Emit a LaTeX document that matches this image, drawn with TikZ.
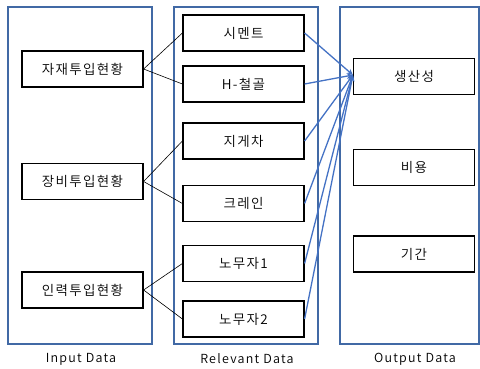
\documentclass[tikz,border=0pt]{standalone}
\usepackage{fontspec}
\setmainfont{Noto Sans CJK KR DemiLight}[LetterSpace=10]
\usetikzlibrary{arrows.meta}
\definecolor{panelblue}{RGB}{65,105,165}
\definecolor{linkblue}{RGB}{68,114,196}
\tikzset{
  panel/.style={draw=panelblue, line width=1.1pt},
  item/.style={draw=black, line width=1.2pt, minimum width=121pt, minimum height=36pt, inner sep=0pt, font=\fontsize{13.5}{15}\selectfont},
  feed/.style={draw=black, line width=0.6pt},
  link/.style={draw=linkblue, line width=1.3pt, -{Stealth[length=6pt,width=5.5pt]}},
  caption/.style={font=\fontsize{12.5}{14}\selectfont, inner sep=0pt}
}
\begin{document}
\begin{tikzpicture}[x=1pt,y=-1pt]
\useasboundingbox (0,0) rectangle (480,369);
% three columns
\draw[panel] (8,7) rectangle (152,344);
\draw[panel] (174,7) rectangle (318,344);
\draw[panel] (340,7) rectangle (479,344);
% input items
\node[item] (mat) at (82.5,69) {자재투입현황};
\node[item] (equ) at (82.5,181.5) {장비투입현황};
\node[item] (lab) at (82.5,290) {인력투입현황};
% relevant items
\node[item] (cem) at (243.5,33) {시멘트};
\node[item] (hbm) at (243.5,84) {H-철골};
\node[item] (frk) at (243.5,141) {지게차};
\node[item] (crn) at (243.5,203.5) {크레인};
\node[item] (wk1) at (243.5,263.5) {노무자1};
\node[item] (wk2) at (243.5,319) {노무자2};
% output items
\node[item] (prd) at (414,76.5) {생산성};
\node[item] (cst) at (414,167.5) {비용};
\node[item] (dur) at (414,254) {기간};
% captions
\node[caption] (c1) at (81,359) {Input Data};
\node[caption] (c2) at (247,359) {Relevant Data};
\node[caption] (c3) at (415,359) {Output Data};
% input to relevant
\draw[feed] (mat.east) -- (cem.west);
\draw[feed] (mat.east) -- (hbm.west);
\draw[feed] (equ.east) -- (frk.west);
\draw[feed] (equ.east) -- (crn.west);
\draw[feed] (lab.east) -- (wk1.west);
\draw[feed] (lab.east) -- (wk2.west);
% relevant to productivity
\coordinate (hit) at ([yshift=1.5pt]prd.west);
\foreach \s in {cem,hbm,frk,crn,wk1,wk2}
  \draw[link] (\s.east) -- (hit);
\end{tikzpicture}
\end{document}
